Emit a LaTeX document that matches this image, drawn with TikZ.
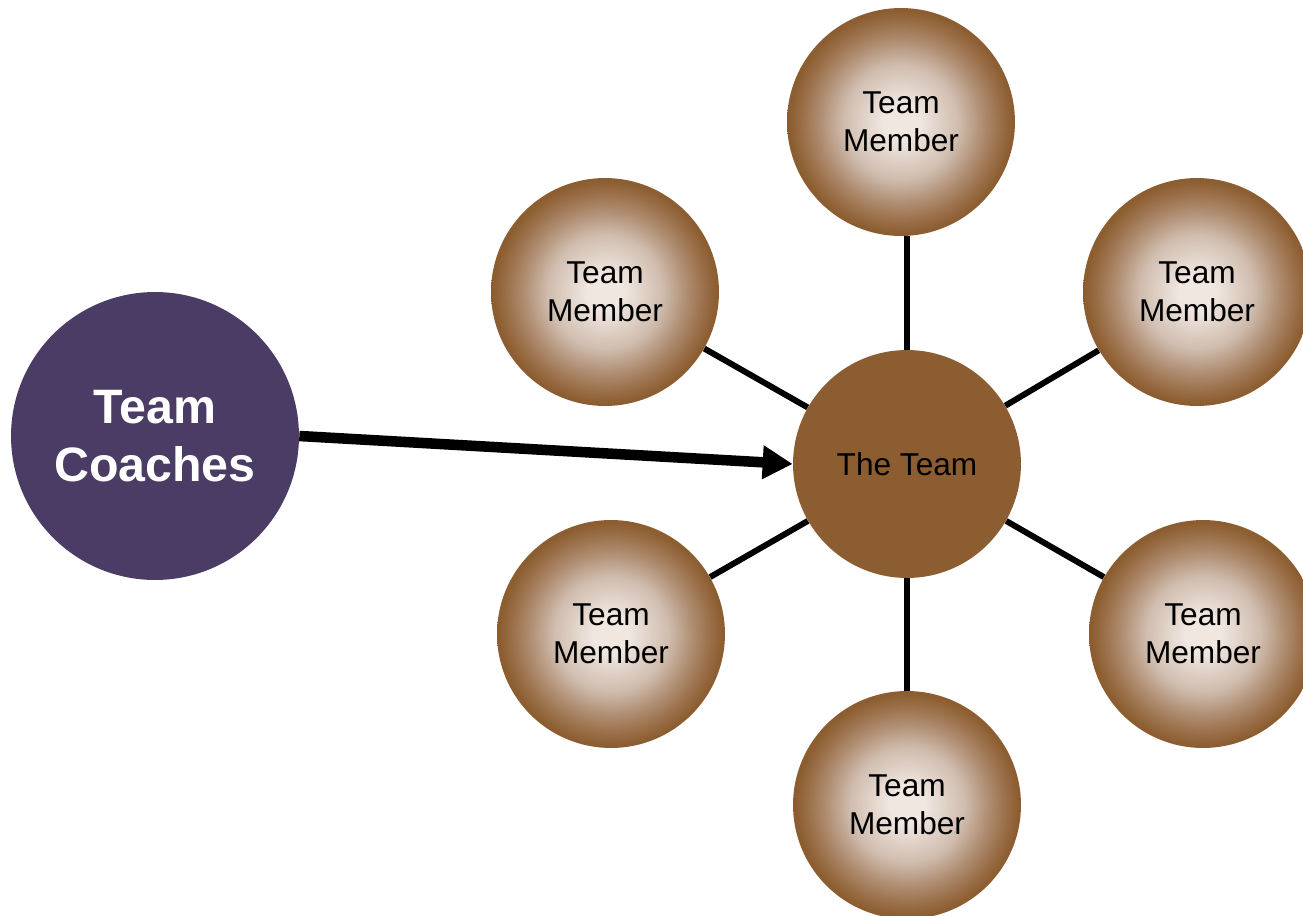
\documentclass[tikz,border=0pt]{standalone}
\usepackage{fontspec}
\setmainfont{Liberation Sans}
\usepackage{xcolor}
\usetikzlibrary{arrows.meta}

\definecolor{teambrown}{RGB}{140,93,48}
\definecolor{teamlight}{RGB}{240,231,225}
\definecolor{teampale}{RGB}{208,189,175}
\definecolor{teamtan}{RGB}{174,140,112}
\definecolor{teammid}{RGB}{153,109,70}
\definecolor{coachpurple}{RGB}{74,60,100}

\pgfdeclareradialshading{memberglow}{\pgfpoint{0bp}{0bp}}{%
	color(0bp)=(teamlight); color(4bp)=(teamlight); color(12.5bp)=(teampale);
	color(18bp)=(teamtan); color(22bp)=(teammid); color(24.5bp)=(teambrown); color(50bp)=(teambrown)}

\tikzset{
	member/.style={circle,minimum size=4.56cm,inner sep=0pt,shading=memberglow,align=center,
		font=\fontsize{18}{21.6}\selectfont},
	hub/.style={circle,minimum size=4.56cm,inner sep=0pt,fill=teambrown,
		font=\fontsize{18}{21.6}\selectfont},
	coach/.style={circle,minimum size=5.76cm,inner sep=0pt,fill=coachpurple,text=white,align=center,
		font=\fontsize{27.5}{33}\selectfont\bfseries},
	spoke/.style={line width=3.4pt},
	push/.style={line width=6pt,-{Triangle[length=0.6cm,width=0.64cm]}}
}

\begin{document}
\begin{tikzpicture}[x=0.02cm,y=-0.02cm]
			\useasboundingbox (0,0) rectangle (1303,916);
			\clip (0,0) rectangle (1303,916);
			\fill[white] (0,0) rectangle (1303,916);

			\node[coach] (coaches) at (155,436) {Team\\Coaches};
			\node[hub] (team) at (907,464) {The Team};

			\node[member] (top) at (901,122) {Team\\Member};
			\node[member] (upleft) at (605,292) {Team\\Member};
			\node[member] (upright) at (1197,292) {Team\\Member};
			\node[member] (lowleft) at (611,634) {Team\\Member};
			\node[member] (lowright) at (1203,634) {Team\\Member};
			\node[member] (bottom) at (907,805) {Team\\Member};

			\draw[spoke] (team.north) -- (team.north |- top.south);
			\draw[spoke] (team) -- (upleft);
			\draw[spoke] (team) -- (upright);
			\draw[spoke] (team) -- (lowleft);
			\draw[spoke] (team) -- (lowright);
			\draw[spoke] (team) -- (bottom);

			\draw[push] (coaches.east) -- (team.west);
		\end{tikzpicture}
\end{document}
